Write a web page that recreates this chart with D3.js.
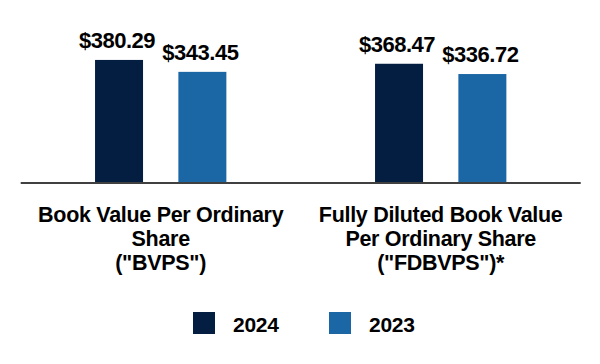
<!DOCTYPE html>
<meta charset="utf-8">
<style>
body { margin: 0; background: #fff; }
text { font-family: "Liberation Sans", Arial, sans-serif; font-weight: bold; fill: #000; }
</style>
<svg width="600" height="364"></svg>
<script src="https://d3js.org/d3.v7.min.js"></script>
<script>

var categories = ["BVPS", "FDBVPS"];
var categoryLines = [
  ["Book Value Per Ordinary", "Share", "(\"BVPS\")"],
  ["Fully Diluted Book Value", "Per Ordinary Share", "(\"FDBVPS\")*"]
];
var seriesNames = ["2024", "2023"];
var values2024 = [380.29, 368.47];
var values2023 = [343.45, 336.72];
var colors = ["#041e42", "#1b66a4"];

var svg = d3.select("svg"),
    baseline = 183;

var x0 = d3.scaleBand().domain(categories).range([20.7, 580.7]).padding(0);
var x1 = d3.scaleBand().domain(seriesNames).range([0, x0.bandwidth()])
    .paddingInner(0.424).paddingOuter(0.892);
var y = d3.scaleLinear().domain([0, 400]).range([baseline, baseline - 400 * 0.3236]);

var data = categories.map(function(c, i) {
  return {cat: c, lines: categoryLines[i], vals: [
    {s: seriesNames[0], v: values2024[i], c: colors[0]},
    {s: seriesNames[1], v: values2023[i], c: colors[1]}
  ]};
});

var groups = svg.selectAll(".grp")
  .data(data)
  .enter().append("g")
    .attr("class", "grp")
    .attr("transform", function(d) { return "translate(" + x0(d.cat) + ",0)"; });

groups.selectAll("rect")
  .data(function(d) { return d.vals; })
  .enter().append("rect")
    .attr("x", function(d) { return x1(d.s); })
    .attr("y", function(d) { return y(d.v); })
    .attr("width", x1.bandwidth())
    .attr("height", function(d) { return y(0) - y(d.v); })
    .attr("fill", function(d) { return d.c; });

groups.selectAll(".val")
  .data(function(d) { return d.vals; })
  .enter().append("text")
    .attr("class", "val")
    .attr("x", function(d) { return x1(d.s) + x1.bandwidth() / 2 - 2; })
    .attr("y", function(d) { return y(d.v) - 12; })
    .attr("text-anchor", "middle")
    .style("font-size", "22px")
    .style("letter-spacing", "-0.5px")
    .text(function(d) { return "$" + d.v.toFixed(2); });

// baseline
svg.append("line")
    .attr("x1", x0.range()[0]).attr("x2", x0.range()[1])
    .attr("y1", y(0)).attr("y2", y(0))
    .attr("stroke", "#404040")
    .attr("stroke-width", 2);

// category labels
groups.append("text")
    .attr("text-anchor", "middle")
    .style("font-size", "21.5px")
    .style("letter-spacing", "-0.3px")
  .selectAll("tspan")
  .data(function(d) { return d.lines; })
  .enter().append("tspan")
    .attr("x", x0.bandwidth() / 2)
    .attr("y", function(d, i) { return 222 + i * 24; })
    .text(function(d) { return d; });

// legend
var legend = svg.selectAll(".leg")
  .data(seriesNames)
  .enter().append("g")
    .attr("class", "leg")
    .attr("transform", function(d, i) { return "translate(" + (193 + i * 136) + ",312)"; });

legend.append("rect")
    .attr("width", 22).attr("height", 22)
    .attr("fill", function(d, i) { return colors[i]; });

legend.append("text")
    .attr("x", 40).attr("y", 19.5)
    .style("font-size", "21px")
    .style("letter-spacing", "-0.3px")
    .text(function(d) { return d; });

</script>
